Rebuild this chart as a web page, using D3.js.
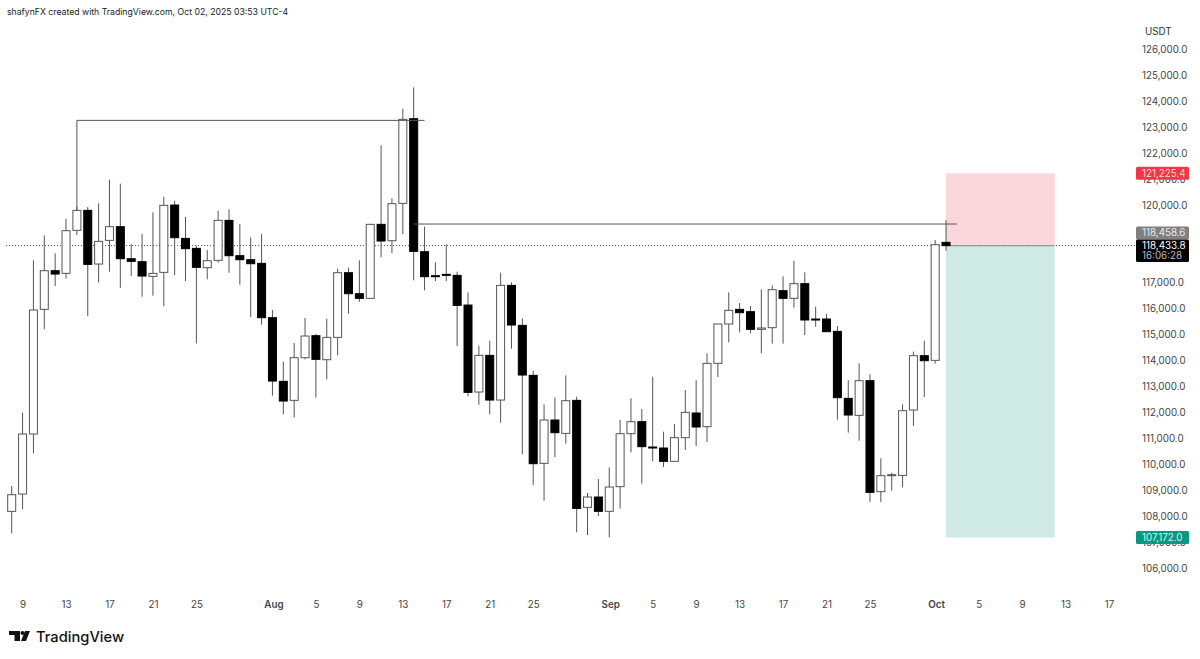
<!DOCTYPE html>
<html><head><meta charset="utf-8">
<script src="https://cdn.jsdelivr.net/npm/d3@7/dist/d3.min.js"></script>
<style>
html,body{margin:0;padding:0;background:#fff}
svg{display:block}
text{font-family:Inter,"Liberation Sans",sans-serif}
</style></head><body>
<svg id="chart" width="1200" height="659"></svg>
<script>
const firstDate = "2025-07-08";
const opens = [108181,108850,111165,115974,117466,117363,119022,119794,117723,118636,119164,117929,117813,117247,117402,119999,118713,118328,117582,117865,119408,118045,117890,117749,115653,113197,112464,114110,114958,114032,114894,117389,116579,116399,119254,118623,120064,123330,118199,117273,117325,117286,116141,112785,114200,112476,116900,115357,113428,110033,111705,111190,112464,108336,108735,108182,109134,111178,111641,110664,110625,110111,111024,111976,111448,113892,115409,115975,115885,115204,115268,116695,116400,116965,115602,115602,115126,112541,111885,113223,108940,109570,109570,112091,114187,114007,118560];
const highs = [109159,111988,117865,118829,118135,119472,119935,119922,120064,120977,120823,118495,118881,119717,120321,120167,119537,118431,118263,119781,119832,119266,118752,118881,115949,113955,114675,115640,115023,115614,117543,117582,117865,119279,122301,120257,123716,124539,119164,117788,118482,117427,116630,114573,114765,117389,117016,115627,113608,112309,112579,113428,112605,108889,109429,109879,111706,112541,112130,113377,111255,111551,112863,113236,114278,115409,116631,116219,116104,116747,116901,117248,117853,117403,116078,115795,115332,113236,113891,113467,110226,109673,112310,114341,114766,118650,119421];
const lows = [107332,108258,110419,115203,116875,117157,118842,115717,117016,117427,116810,117260,116463,116502,116090,117299,117067,114663,117132,117775,117389,116926,115679,115383,112644,111923,111808,114045,112566,113274,114200,115807,116270,116386,117980,118148,118881,117093,116707,117067,117067,114560,112618,112296,111923,111602,114457,110380,109197,108593,110277,110792,107371,107269,108002,107179,108285,110458,109249,110111,109892,110100,110548,110703,110857,113365,114702,115088,115049,114278,114651,114651,116039,114985,115306,115100,111718,111217,110908,108542,108542,108979,109107,111474,112593,113879,118238];
const closes = [108824,111165,115949,117466,117337,119009,119794,117710,118598,119164,117929,117826,117260,117363,119987,118739,118315,117595,117852,119408,118045,117890,117736,115653,113209,112438,114110,114946,114045,114894,117389,116579,116399,119254,118611,120051,123305,118212,117235,117235,117299,116129,112772,114200,112476,116900,115370,113441,110020,111705,111216,112451,108297,108735,108182,109121,111178,111641,110677,110625,110111,111024,112001,111436,113892,115409,115937,115847,115204,115255,116734,116400,116965,115564,115564,115113,112567,111898,113223,108915,109558,109596,112065,114187,113994,118470,118434];

const priceTicks = [126000,125000,124000,123000,122000,121000,120000,117000,116000,115000,114000,113000,112000,111000,110000,109000,108000,107000,106000];
const dayTicks = ["2025-07-09","2025-07-13","2025-07-17","2025-07-21","2025-07-25","2025-08-01","2025-08-05","2025-08-09","2025-08-13","2025-08-17","2025-08-21","2025-08-25","2025-09-01","2025-09-05","2025-09-09","2025-09-13","2025-09-17","2025-09-21","2025-09-25","2025-10-01","2025-10-05","2025-10-09","2025-10-13","2025-10-17"];

const lastPrice = 118433.8, prevPrice = 118458.6, stopPrice = 121225.4, targetPrice = 107172.0;
const countdown = "16:06:28";
const highLevel = {price:123266, from:"2025-07-14", to:"2025-08-15"};
const breakLevel = {price:119267, from:"2025-08-14", to:"2025-10-03"};
const positionSpan = {from:"2025-10-02", to:"2025-10-12"};
const topCaption = "shafynFX created with TradingView.com, Oct 02, 2025 03:53 UTC-4";

const parse = d3.utcParse("%Y-%m-%d");
const start = parse(firstDate);
const dates = opens.map((_,i)=>d3.utcDay.offset(start,i));
const candles = opens.map((o,i)=>({d:dates[i],o,h:highs[i],l:lows[i],c:closes[i]}));

const x = d3.scaleUtc().domain([start, parse("2025-10-17")]).range([11.7,1109.0]);
const y = d3.scaleLinear().domain([106000,126000]).range([567.9,49.5]);
const fmt = d3.format(",.1f");
const svg = d3.select("#chart");

// risk / reward boxes
const px0 = x(parse(positionSpan.from)), px1 = x(parse(positionSpan.to));
svg.append("rect").attr("x",px0).attr("width",px1-px0).attr("y",y(stopPrice)).attr("height",y(lastPrice)-y(stopPrice)).attr("fill","#fbd6da");
svg.append("rect").attr("x",px0).attr("width",px1-px0).attr("y",y(lastPrice)).attr("height",y(targetPrice)-y(lastPrice)).attr("fill","#cfe9e4");

// last price dotted line
svg.append("line").attr("x1",6).attr("x2",1136).attr("y1",y(lastPrice)).attr("y2",y(lastPrice))
  .attr("stroke","#555").attr("stroke-width",1).attr("stroke-dasharray","1 2");
svg.append("line").attr("x1",px0).attr("x2",px1).attr("y1",y(lastPrice)).attr("y2",y(lastPrice))
  .attr("stroke","#999").attr("stroke-width",1.2);

// candles
const wickColor="#555";
const bodyW = 8;
const g = svg.append("g");
g.selectAll("line.w").data(candles).join("line").attr("class","w")
  .attr("x1",d=>x(d.d)).attr("x2",d=>x(d.d)).attr("y1",d=>y(d.h)).attr("y2",d=>y(d.l))
  .attr("stroke",wickColor).attr("stroke-width",1);
g.selectAll("rect.b").data(candles).join("rect").attr("class","b")
  .attr("x",d=>x(d.d)-bodyW/2).attr("width",bodyW)
  .attr("y",d=>y(Math.max(d.o,d.c)))
  .attr("height",d=>Math.max(1,Math.abs(y(d.o)-y(d.c))))
  .attr("fill",d=>d.c>=d.o?"#fff":"#000")
  .attr("stroke",d=>d.c>=d.o?"#555":"#000").attr("stroke-width",1);

// drawn levels
const lvl = svg.append("g").attr("stroke","#555").attr("stroke-width",1).attr("fill","none");
lvl.append("path").attr("d",d3.line()([
  [x(parse(highLevel.from)),y(closes[6])],
  [x(parse(highLevel.from)),y(highLevel.price)],
  [x(parse(highLevel.to)),y(highLevel.price)]]));
lvl.append("line").attr("x1",x(parse(breakLevel.from))).attr("x2",x(parse(breakLevel.to)))
  .attr("y1",y(breakLevel.price)).attr("y2",y(breakLevel.price));

// price axis
const yAxis = d3.axisRight(y).tickValues(priceTicks).tickSize(0).tickPadding(0).tickFormat(fmt);
const ya = svg.append("g").attr("transform","translate(1142,0)").call(yAxis);
ya.select(".domain").remove();
ya.selectAll("text").attr("font-size",9.8).attr("fill","#444").attr("font-family","Inter,sans-serif");

svg.append("text").attr("x",1145).attr("y",35).attr("font-size",9.8).attr("fill","#333").text("USDT");

// price tags
function tag(py,h,fill,lines,color){
  svg.append("rect").attr("x",1136).attr("width",53).attr("y",py).attr("height",h).attr("rx",1.5).attr("fill",fill);
  lines.forEach((t,i)=>svg.append("text").attr("x",1142).attr("y",py+9.8+i*10)
    .attr("font-size",9.8).attr("fill",color[i]||color[0]).text(t));
}
tag(y(stopPrice)-6.5,13,"#f23645",[fmt(stopPrice)],["#ffd9dc"]);
tag(y(lastPrice)-19,13,"#808080",[fmt(prevPrice)],["#e8e8e8"]);
tag(y(lastPrice)-6,22.5,"#000",[fmt(lastPrice),countdown],["#fff","#bbb"]);
tag(y(targetPrice)-6.5,13,"#089981",[fmt(targetPrice)],["#d4f2ec"]);

// time axis
const tickDates = dayTicks.map(parse);
const xAxis = d3.axisBottom(x).tickValues(tickDates).tickSize(0).tickPadding(0)
  .tickFormat(d=>d.getUTCDate()===1?d3.utcFormat("%b")(d):d.getUTCDate());
const xa = svg.append("g").attr("transform","translate(0,601)").call(xAxis);
xa.select(".domain").remove();
xa.selectAll("text").attr("font-size",9.8).attr("fill","#444").attr("font-family","Inter,sans-serif")
  .attr("font-weight",d=>d.getUTCDate()===1?600:400)
  .attr("dx",d=>d.getUTCDate()===1?1:0);

// header
svg.append("text").attr("x",7).attr("y",14.5).attr("font-size",8.7).attr("fill","#222").text(topCaption);

// TradingView logo
const logo = svg.append("g").attr("transform","translate(9,631)").attr("fill","#111");
logo.append("path").attr("d","M0 0H11V10H5.5V4H0Z");
logo.append("circle").attr("cx",13.5).attr("cy",2).attr("r",2);
logo.append("path").attr("d","M16 0H21L17 10H12Z");
svg.append("text").attr("x",36).attr("y",642).attr("font-size",14.7).attr("font-weight",500).attr("fill","#111").text("TradingView");
</script>
</body></html>
